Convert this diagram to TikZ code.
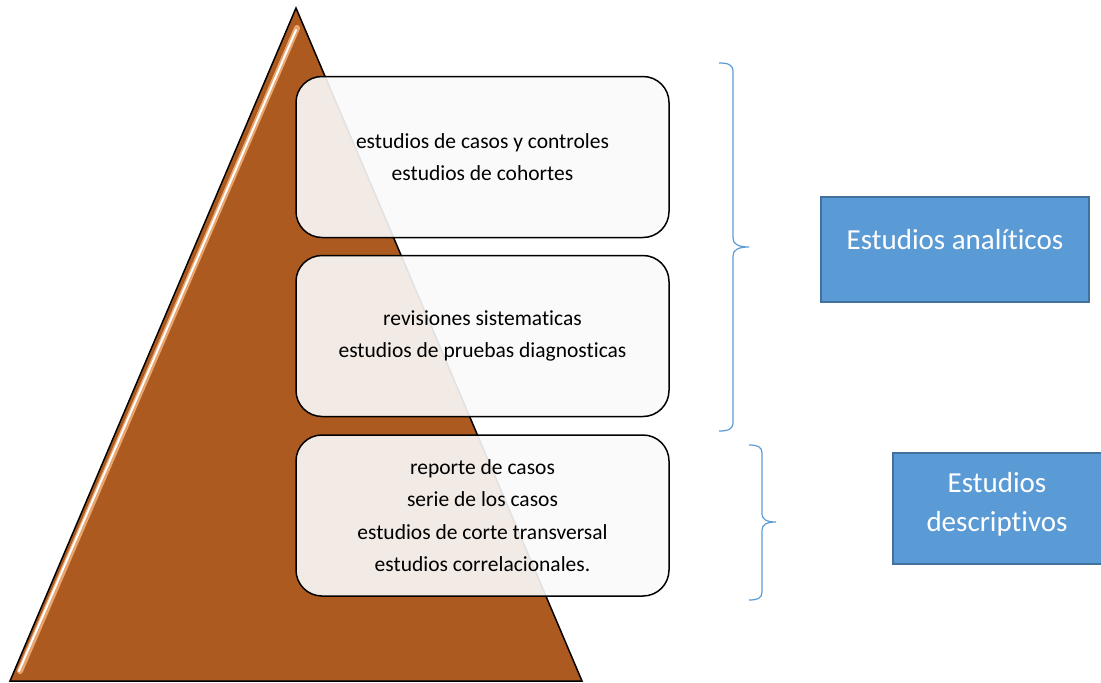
\documentclass[tikz,border=0pt]{standalone}
\usepackage{fontspec}
\setmainfont{Carlito}[Ligatures=NoCommon]
\definecolor{pyrbrown}{HTML}{AD5A21}
\definecolor{pyrglow}{HTML}{E9A56E}
\definecolor{bluefill}{HTML}{5B9BD5}
\definecolor{blueedge}{HTML}{41719C}
\definecolor{boxfill}{HTML}{FAFAFA}
\tikzset{
  levelbox/.style={draw=black, line width=1.5pt, rounded corners=26pt, fill=boxfill, fill opacity=0.9, text opacity=1,
    minimum width=373pt, minimum height=161pt, align=center, font=\fontsize{21.5}{32.5}\selectfont},
  bluebox/.style={draw=blueedge, line width=2pt, fill=bluefill},
  bluetext/.style={text=white, align=center, font=\fontsize{29}{39}\selectfont},
  bracestyle/.style={draw=bluefill, line width=1.2pt}
}
\begin{document}
\begin{tikzpicture}[x=1pt,y=-1pt]
\useasboundingbox (0,0) rectangle (1101,683);
% pyramid
\coordinate (apex) at (296,8);
\coordinate (bl) at (10,681);
\coordinate (br) at (582,681);
\fill[pyrbrown] (apex) -- (bl) -- (br) -- cycle;
\draw[pyrglow, line width=6pt, line cap=round] (297,28) -- (20,671);
\draw[white, line width=2pt, line cap=round] (296,30) -- (19,671);
\draw[black, line width=1.5pt, line join=miter] (apex) -- (bl) -- (br) -- cycle;
% level boxes
\node[levelbox] (b1) at (482.5,157) {estudios de casos y controles\\estudios de cohortes};
\node[levelbox] (b2) at (482.5,336) {revisiones sistematicas\\estudios de pruebas diagnosticas};
\node[levelbox] (b3) at (482.5,515.5) {reporte de casos\\serie de los casos\\estudios de corte transversal\\estudios correlacionales.};
% braces
\coordinate (br1top) at (719,63);
\coordinate (br1tip) at (749,247);
\coordinate (br1bot) at (719,431);
\draw[bracestyle] (br1top) .. controls (729,63) and (733,65) .. (733,72)
  -- (733,238) .. controls (733,244) and (738,247) .. (br1tip)
  .. controls (738,247) and (733,250) .. (733,256)
  -- (733,422) .. controls (733,429) and (729,431) .. (br1bot);
\coordinate (br2top) at (749,445);
\coordinate (br2tip) at (776,522);
\coordinate (br2bot) at (749,600);
\draw[bracestyle] (br2top) .. controls (758,445) and (762,447) .. (762,453)
  -- (762,514) .. controls (762,519) and (766,522) .. (br2tip)
  .. controls (766,522) and (762,525) .. (762,530)
  -- (762,592) .. controls (762,598) and (758,600) .. (br2bot);
% blue boxes
\node[bluebox, minimum width=268pt, minimum height=105pt] (ana) at (955,249.5) {};
\node[bluetext] (anat) at (955,240) {Estudios analíticos};
\node[bluebox, minimum width=212pt, minimum height=111pt] (des) at (999,508.5) {};
\node[bluetext] (dest) at (997,504) {Estudios\\descriptivos};
\end{tikzpicture}
\end{document}
